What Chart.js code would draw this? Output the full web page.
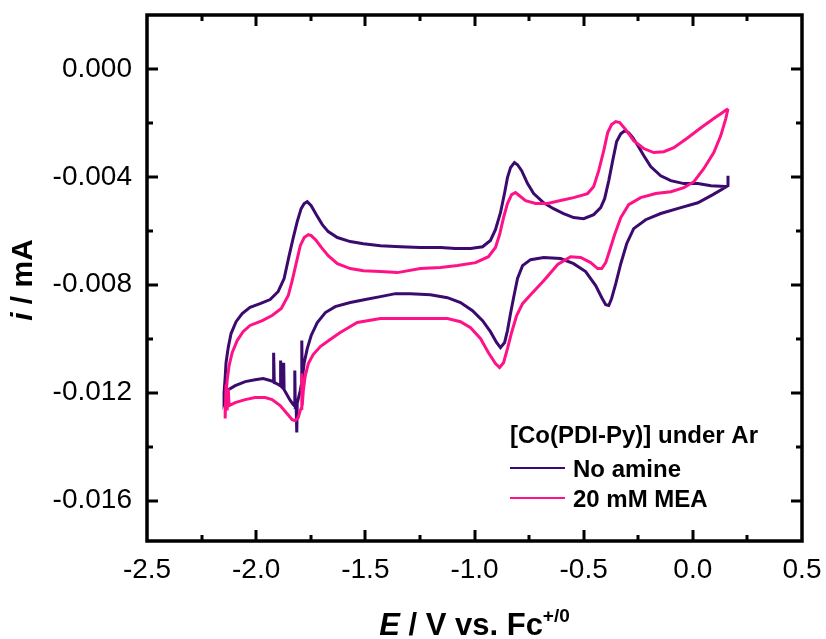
<!DOCTYPE html>
<html>
<head>
<meta charset="utf-8">
<script src="https://cdn.jsdelivr.net/npm/chart.js@4.4.1/dist/chart.umd.min.js"></script>
<style>
    html, body { margin: 0; padding: 0; background: #fff; }
    canvas { display: block; }
</style>
</head>
<body>
<canvas id="cvCanvas" width="826" height="639"></canvas>
<script>
"use strict";

// potential sweep (V vs Fc+/0) and current (mA), one closed loop per trace
const noAmineE = [
    0.151, 0.083, 0.023, -0.041, -0.101, -0.147, -0.193, -0.225, -0.252, -0.275,
    -0.294, -0.312, -0.330, -0.349, -0.367, -0.385, -0.404, -0.422, -0.454, -0.500,
    -0.546, -0.592, -0.638, -0.683, -0.729, -0.757, -0.784, -0.803, -0.817, -0.835,
    -0.849, -0.862, -0.881, -0.904, -0.927, -0.963, -1.018, -1.087, -1.156, -1.248,
    -1.339, -1.431, -1.509, -1.569, -1.628, -1.670, -1.697, -1.725, -1.748, -1.766,
    -1.780, -1.794, -1.812, -1.830, -1.849, -1.872, -1.899, -1.936, -1.982, -2.028,
    -2.064, -2.092, -2.115, -2.128, -2.138, -2.142, -2.147, -2.147,
    -2.133, -2.096, -2.050, -2.005, -1.968, -1.936, -1.922, -1.920, -1.917, -1.908,
    -1.899, -1.890, -1.888, -1.885, -1.876, -1.874, -1.872, -1.862, -1.844, -1.830,
    -1.826, -1.823, -1.821, -1.817, -1.814, -1.812, -1.807, -1.798, -1.794, -1.791,
    -1.789, -1.780, -1.766, -1.748, -1.720, -1.683, -1.638, -1.569, -1.500, -1.431,
    -1.362, -1.294, -1.202, -1.124, -1.064, -1.009, -0.963, -0.927, -0.899, -0.881,
    -0.862, -0.849, -0.835, -0.821, -0.803, -0.780, -0.743, -0.683, -0.606, -0.546,
    -0.491, -0.445, -0.417, -0.399, -0.385, -0.372, -0.353, -0.330, -0.303, -0.271,
    -0.216, -0.147, -0.055, 0.023, 0.092, 0.138, 0.161, 0.161
];
const noAmineI = [
    -0.00436, -0.00433, -0.00425, -0.00425, -0.00414, -0.00396, -0.00362, -0.00321, -0.00284, -0.00255,
    -0.00236, -0.00229, -0.00240, -0.00269, -0.00340, -0.00414, -0.00481, -0.00514, -0.00540, -0.00555,
    -0.00551, -0.00536, -0.00518, -0.00496, -0.00462, -0.00425, -0.00377, -0.00355, -0.00347, -0.00366,
    -0.00403, -0.00459, -0.00533, -0.00596, -0.00636, -0.00659, -0.00666, -0.00666, -0.00662, -0.00662,
    -0.00659, -0.00655, -0.00648, -0.00640, -0.00625, -0.00603, -0.00577, -0.00540, -0.00507, -0.00492,
    -0.00499, -0.00518, -0.00566, -0.00625, -0.00692, -0.00777, -0.00825, -0.00855, -0.00870, -0.00884,
    -0.00907, -0.00937, -0.00981, -0.01033, -0.01089, -0.01144, -0.01200, -0.01229,
    -0.01192, -0.01174, -0.01159, -0.01152, -0.01148, -0.01155, -0.01159, -0.01052, -0.01163, -0.01166,
    -0.01170, -0.01174, -0.01081, -0.01177, -0.01185, -0.01089, -0.01189, -0.01203, -0.01229, -0.01244,
    -0.01248, -0.01118, -0.01248, -0.01244, -0.01348, -0.01240, -0.01222, -0.01192, -0.01174, -0.01007,
    -0.01148, -0.01089, -0.01037, -0.00988, -0.00940, -0.00903, -0.00881, -0.00866, -0.00855, -0.00844,
    -0.00833, -0.00833, -0.00837, -0.00848, -0.00866, -0.00896, -0.00933, -0.00974, -0.01014, -0.01033,
    -0.01014, -0.00970, -0.00907, -0.00848, -0.00777, -0.00729, -0.00707, -0.00699, -0.00703, -0.00722,
    -0.00751, -0.00803, -0.00848, -0.00874, -0.00877, -0.00851, -0.00796, -0.00722, -0.00648, -0.00592,
    -0.00559, -0.00536, -0.00514, -0.00496, -0.00466, -0.00444, -0.00433, -0.00396
];

const meaE = [
    0.161, 0.128, 0.096, 0.037, -0.023, -0.087, -0.133, -0.179, -0.225, -0.271,
    -0.307, -0.335, -0.353, -0.372, -0.390, -0.408, -0.431, -0.454, -0.482, -0.546,
    -0.606, -0.665, -0.720, -0.766, -0.794, -0.812, -0.830, -0.849, -0.867, -0.885,
    -0.904, -0.936, -0.995, -1.078, -1.156, -1.248, -1.353, -1.431, -1.509, -1.569,
    -1.628, -1.670, -1.697, -1.725, -1.748, -1.761, -1.780, -1.798, -1.817, -1.835,
    -1.853, -1.885, -1.927, -1.972, -2.028, -2.060, -2.087, -2.110, -2.124, -2.133,
    -2.138, -2.142, -2.142, -2.138, -2.133, -2.128, -2.124,
    -2.096, -2.050, -2.005, -1.959, -1.927, -1.890, -1.858, -1.835, -1.821, -1.807,
    -1.798, -1.794, -1.791, -1.789, -1.784, -1.775, -1.761, -1.739, -1.706, -1.661,
    -1.615, -1.537, -1.431, -1.339, -1.202, -1.124, -1.064, -1.018, -0.972, -0.936,
    -0.904, -0.885, -0.867, -0.849, -0.830, -0.807, -0.780, -0.743, -0.683, -0.619,
    -0.560, -0.514, -0.468, -0.436, -0.417, -0.399, -0.381, -0.358, -0.330, -0.294,
    -0.239, -0.170, -0.101, -0.041, 0.005, 0.050, 0.096, 0.128, 0.151, 0.161
];
const meaI = [
    -0.00147, -0.00166, -0.00184, -0.00218, -0.00255, -0.00292, -0.00307, -0.00310, -0.00295, -0.00266,
    -0.00225, -0.00199, -0.00195, -0.00206, -0.00236, -0.00303, -0.00377, -0.00436, -0.00462, -0.00477,
    -0.00488, -0.00499, -0.00499, -0.00488, -0.00470, -0.00458, -0.00466, -0.00499, -0.00551, -0.00614,
    -0.00662, -0.00696, -0.00718, -0.00729, -0.00736, -0.00740, -0.00755, -0.00751, -0.00748, -0.00740,
    -0.00722, -0.00692, -0.00666, -0.00636, -0.00618, -0.00614, -0.00625, -0.00655, -0.00722, -0.00785,
    -0.00840, -0.00888, -0.00914, -0.00933, -0.00951, -0.00974, -0.01007, -0.01052, -0.01100, -0.01155,
    -0.01211, -0.01266, -0.01296, -0.01170, -0.01266, -0.01185, -0.01248,
    -0.01237, -0.01226, -0.01218, -0.01218, -0.01226, -0.01248, -0.01278, -0.01300, -0.01304, -0.01292,
    -0.01266, -0.01259, -0.01129, -0.01248, -0.01192, -0.01137, -0.01092, -0.01059, -0.01029, -0.01003,
    -0.00977, -0.00940, -0.00925, -0.00925, -0.00925, -0.00925, -0.00937, -0.00959, -0.01000, -0.01052,
    -0.01092, -0.01107, -0.01089, -0.01037, -0.00977, -0.00914, -0.00870, -0.00837, -0.00785, -0.00725,
    -0.00696, -0.00699, -0.00718, -0.00740, -0.00740, -0.00718, -0.00673, -0.00614, -0.00551, -0.00503,
    -0.00477, -0.00462, -0.00455, -0.00440, -0.00418, -0.00370, -0.00310, -0.00247, -0.00184, -0.00147
];

const xTicks = [-2.5, -2.0, -1.5, -1.0, -0.5, 0.0, 0.5];
const yTicks = [0.000, -0.004, -0.008, -0.012, -0.016];
const seriesLabels = ['No amine', '20 mM MEA'];
const legendTitle = '[Co(PDI-Py)] under Ar';

const FONT = '"Liberation Sans", Arial, Helvetica, sans-serif';
const PURPLE = '#3b0a6e';
const PINK = '#ff1288';

function toPoints(xs, ys) {
    return xs.map((x, i) => ({ x: x, y: ys[i] }));
}

// frame, inward ticks, axis titles and legend
const framePlugin = {
    id: 'frame',
    afterDraw(chart) {
        const c = chart.ctx;
        const a = chart.chartArea;
        const sx = chart.scales.x;
        const sy = chart.scales.y;
        c.save();
        c.strokeStyle = '#000';
        c.lineWidth = 3;
        c.lineCap = 'butt';

        const majorLen = 11, minorLen = 6;
        const tickX = (v, len) => {
            const px = Math.round(sx.getPixelForValue(v));
            c.beginPath();
            c.moveTo(px, a.bottom); c.lineTo(px, a.bottom - len);
            c.moveTo(px, a.top); c.lineTo(px, a.top + len);
            c.stroke();
        };
        const tickY = (v, len) => {
            const py = Math.round(sy.getPixelForValue(v));
            c.beginPath();
            c.moveTo(a.left, py); c.lineTo(a.left + len, py);
            c.moveTo(a.right, py); c.lineTo(a.right - len, py);
            c.stroke();
        };
        for (let i = 0; i < xTicks.length; i++) {
            if (i > 0 && i < xTicks.length - 1) tickX(xTicks[i], majorLen);
            if (i < xTicks.length - 1) tickX((xTicks[i] + xTicks[i + 1]) / 2, minorLen);
        }
        for (let i = 0; i < yTicks.length; i++) {
            tickY(yTicks[i], majorLen);
            if (i < yTicks.length - 1) tickY((yTicks[i] + yTicks[i + 1]) / 2, minorLen);
        }

        c.lineWidth = 3.5;
        c.strokeRect(a.left, a.top, a.right - a.left, a.bottom - a.top);

        // x title: E / V vs. Fc+/0
        c.fillStyle = '#000';
        c.textBaseline = 'alphabetic';
        const fMain = 'bold 31px ' + FONT;
        const fItal = 'italic bold 31px ' + FONT;
        const fSup = 'bold 19px ' + FONT;
        c.font = fItal; const wE = c.measureText('E').width;
        c.font = fMain; const wRest = c.measureText(' / V vs. Fc').width;
        c.font = fSup; const wSup = c.measureText('+/0').width;
        let x0 = (a.left + a.right) / 2 - (wE + wRest + wSup) / 2;
        const base = 635;
        c.font = fItal; c.fillText('E', x0, base); x0 += wE;
        c.font = fMain; c.fillText(' / V vs. Fc', x0, base); x0 += wRest;
        c.font = fSup; c.fillText('+/0', x0, base - 13);

        // y title: i / mA
        c.save();
        c.translate(32, (a.top + a.bottom) / 2 + 2);
        c.rotate(-Math.PI / 2);
        c.font = 'italic bold 30px ' + FONT; const wi = c.measureText('i').width;
        c.font = 'bold 30px ' + FONT; const wm = c.measureText(' / mA').width;
        let y0 = -(wi + wm) / 2;
        c.font = 'italic bold 30px ' + FONT; c.fillText('i', y0, 0);
        c.font = 'bold 30px ' + FONT; c.fillText(' / mA', y0 + wi, 0);
        c.restore();

        // legend
        c.font = 'bold 24px ' + FONT;
        c.fillText(legendTitle, 510, 443);
        chart.data.datasets.forEach((ds, i) => {
            const ly = 468 + i * 30;
            c.strokeStyle = ds.borderColor;
            c.lineWidth = 2;
            c.beginPath();
            c.moveTo(510, ly); c.lineTo(565, ly);
            c.stroke();
            c.fillText(ds.label, 573, ly + 9);
        });
        c.restore();
    }
};

const ctx = document.getElementById('cvCanvas').getContext('2d');
const chart = new Chart(ctx, {
    type: 'scatter',
    data: {
        datasets: [
            {
                label: seriesLabels[0],
                data: toPoints(noAmineE, noAmineI),
                borderColor: PURPLE,
                borderWidth: 3,
                showLine: true,
                pointRadius: 0,
                tension: 0,
                order: 1
            },
            {
                label: seriesLabels[1],
                data: toPoints(meaE, meaI),
                borderColor: PINK,
                borderWidth: 3,
                showLine: true,
                pointRadius: 0,
                tension: 0,
                order: 0
            }
        ]
    },
    options: {
        responsive: false,
        animation: false,
        layout: { padding: { top: 15, right: 24, left: 0, bottom: 0 } },
        plugins: {
            legend: { display: false },
            tooltip: { enabled: false }
        },
        scales: {
            x: {
                type: 'linear',
                min: -2.5,
                max: 0.5,
                afterBuildTicks: (s) => { s.ticks = xTicks.map(v => ({ value: v })); },
                afterFit: (s) => {
                    s.height = 98;
                    s.paddingLeft = 0;
                    s.paddingRight = 0;
                },
                grid: { display: false, drawTicks: false },
                border: { display: false },
                ticks: {
                    autoSkip: false,
                    maxRotation: 0,
                    padding: 12,
                    color: '#000',
                    font: { family: FONT, size: 28 },
                    callback: (v) => Number(v).toFixed(1)
                }
            },
            y: {
                type: 'linear',
                min: -0.0175,
                max: 0.002,
                afterBuildTicks: (s) => { s.ticks = yTicks.map(v => ({ value: v })); },
                afterFit: (s) => {
                    s.width = 147;
                    s.paddingTop = 0;
                    s.paddingBottom = 0;
                },
                grid: { display: false, drawTicks: false },
                border: { display: false },
                ticks: {
                    autoSkip: false,
                    padding: 15,
                    color: '#000',
                    font: { family: FONT, size: 28 },
                    callback: (v) => Number(v).toFixed(3)
                }
            }
        }
    },
    plugins: [framePlugin]
});
</script>
</body>
</html>
